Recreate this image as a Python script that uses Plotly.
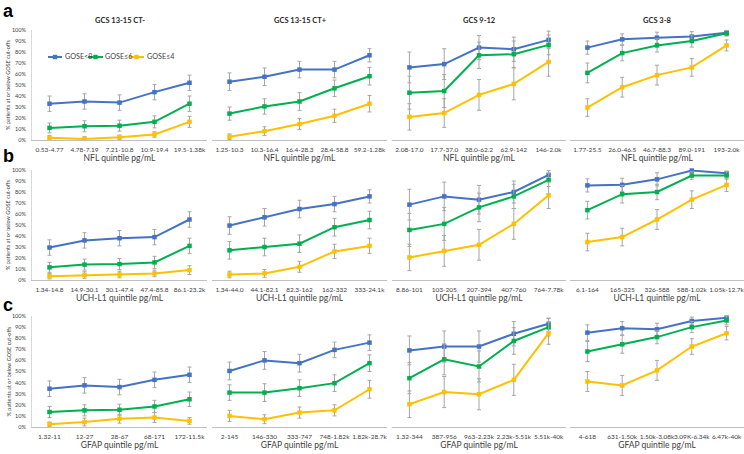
import plotly.graph_objects as go

W, H = 744, 454

series_names = ["GOSE<8", "GOSE≤6", "GOSE≤4"]
series_colors = ["#4472C4", "#00B050", "#FFC000"]

panel_titles = ["GCS 13-15 CT-", "GCS 13-15 CT+", "GCS 9-12", "GCS 3-8"]
row_letters = ["a", "b", "c"]
row_xtitles = ["NFL quintile pg/mL", "UCH-L1 quintile pg/mL", "GFAP quintile pg/mL"]

# ---------------- Row a: NFL ----------------
nfl_p1_labels = ["0.53-4.77", "4.78-7.19", "7.21-10.8", "10.9-19.4", "19.5-1.38k"]
nfl_p1_vals = [[33, 35, 34, 43.5, 52], [11, 12.5, 13, 16.5, 33], [2, 1, 2.5, 5, 16.5]]
nfl_p1_err = [[7, 7, 7, 7, 7], [4.5, 5, 5, 5.5, 7], [2, 2, 2, 2.5, 5]]

nfl_p2_labels = ["1.25-10.3", "10.3-16.4", "16.4-28.3", "28.4-58.8", "59.2-1.28k"]
nfl_p2_vals = [[53, 57.5, 64, 64, 77], [24, 30.5, 35, 47, 58], [3, 8, 14.5, 22, 33]]
nfl_p2_err = [[8, 8, 7.5, 7.5, 6], [6, 7, 8, 7.5, 8], [2.5, 4, 5, 6, 7.5]]

nfl_p3_labels = ["2.08-17.0", "17.7-37.0", "38.0-62.2", "62.9-142", "146-2.0k"]
nfl_p3_vals = [[66, 69, 84, 82.5, 91], [43, 44.5, 77, 78, 86.5], [21, 24.5, 41, 51, 71]]
nfl_p3_err = [[14, 14, 11, 11, 8], [15, 15, 12, 12, 9], [12, 13, 14, 14.5, 13]]

nfl_p4_labels = ["1.77-25.5", "26.0-46.5", "46.7-88.3", "89.0-191", "193-2.0k"]
nfl_p4_vals = [[84, 91.5, 93, 94, 97.5], [61, 79, 86, 90, 97], [29.5, 48, 59, 66, 86]]
nfl_p4_err = [[6, 5, 5, 4.5, 2.5], [9, 7, 6, 5.5, 2.5], [8, 9, 9, 8, 5]]

# ---------------- Row b: UCH-L1 ----------------
uch_p1_labels = ["1.34-14.8", "14.9-30.1", "30.1-47.4", "47.4-85.8", "86.1-23.2k"]
uch_p1_vals = [[29.5, 36, 38, 39, 55], [11.5, 14, 14.5, 16, 31], [3.5, 4.5, 5, 6, 9]]
uch_p1_err = [[7, 7, 7, 7, 7], [4.5, 5, 5, 5.5, 7], [2.5, 3, 3, 3, 4]]

uch_p2_labels = ["1.34-44.0", "44.1-82.1", "82.3-162", "162-332", "333-24.1k"]
uch_p2_vals = [[49.5, 57, 64.5, 69, 76], [27, 30, 33, 48, 54.5], [5, 6, 12, 26, 31]]
uch_p2_err = [[8, 8, 8, 7, 6], [8, 8, 8, 8, 8], [3, 3.5, 5, 6.5, 7]]

uch_p3_labels = ["8.86-101", "103-205", "207-394", "407-760", "764-7.78k"]
uch_p3_vals = [[68.5, 76, 73, 80, 95.5], [45.5, 51, 66, 76, 91], [20.5, 26.5, 32, 51, 77]]
uch_p3_err = [[14, 13, 13, 10, 4], [15, 15, 13, 11, 6], [12, 14, 14, 14, 12]]

uch_p4_labels = ["6.1-164", "165-325", "326-588", "588-1.02k", "1.05k-12.7k"]
uch_p4_vals = [[86, 86.5, 91.5, 99.5, 97], [63.5, 78, 80, 95, 95], [34.5, 39, 55, 73, 86.5]]
uch_p4_err = [[6, 6, 6, 2, 2], [8, 8, 7, 3.5, 3.5], [8, 8, 9, 8, 6]]

# ---------------- Row c: GFAP ----------------
gfap_p1_labels = ["1.32-11", "12-27", "28-67", "68-171", "172-11.5k"]
gfap_p1_vals = [[34.5, 37.5, 36, 42.5, 47], [13.5, 15, 15.5, 18.5, 25], [2.5, 4.5, 7.5, 8.5, 5.5]]
gfap_p1_err = [[7, 7, 7, 7, 7], [5, 5, 5, 5.5, 6.5], [2, 3.5, 4, 4.5, 3]]

gfap_p2_labels = ["2-145", "146-330", "333-747", "748-1.82k", "1.82k-28.7k"]
gfap_p2_vals = [[50.5, 60, 57.5, 69.5, 76], [31, 31, 35, 39.5, 57.5], [10, 7, 13, 15, 34]]
gfap_p2_err = [[8, 8, 8, 7, 7], [7, 8, 7.5, 7.5, 7.5], [5, 4, 5, 5, 8]]

gfap_p3_labels = ["1.32-344", "387-956", "963-2.23k", "2.23k-5.51k", "5.51k-40k"]
gfap_p3_vals = [[69, 72.5, 72.5, 84, 93], [44, 61, 54.5, 77.5, 90], [20.5, 31.5, 29.5, 42.5, 84.5]]
gfap_p3_err = [[13, 14, 14, 11, 5], [14, 14, 14, 12, 8], [12, 14, 14, 14, 10]]

gfap_p4_labels = ["4-618", "631-1.50k", "1.50k-3.08k", "3.09K-6.34k", "6.47k-40k"]
gfap_p4_vals = [[85, 89, 88, 95.5, 98.5], [68, 74.5, 81, 90, 96], [41, 37.5, 51, 72.5, 84.5]]
gfap_p4_err = [[7, 6, 5.5, 3.5, 2], [9, 8, 6, 5, 4], [9, 9, 9, 7, 6]]

panels = [
    [(nfl_p1_labels, nfl_p1_vals, nfl_p1_err), (nfl_p2_labels, nfl_p2_vals, nfl_p2_err),
     (nfl_p3_labels, nfl_p3_vals, nfl_p3_err), (nfl_p4_labels, nfl_p4_vals, nfl_p4_err)],
    [(uch_p1_labels, uch_p1_vals, uch_p1_err), (uch_p2_labels, uch_p2_vals, uch_p2_err),
     (uch_p3_labels, uch_p3_vals, uch_p3_err), (uch_p4_labels, uch_p4_vals, uch_p4_err)],
    [(gfap_p1_labels, gfap_p1_vals, gfap_p1_err), (gfap_p2_labels, gfap_p2_vals, gfap_p2_err),
     (gfap_p3_labels, gfap_p3_vals, gfap_p3_err), (gfap_p4_labels, gfap_p4_vals, gfap_p4_err)],
]

# layout geometry (pixels)
col_px = [(32, 207), (212, 387), (392, 566), (570, 744)]
row_px = [(30, 140), (170, 280), (316, 427)]

FONT = "Lato, 'Open Sans', sans-serif"
TXT = "#404040"

fig = go.Figure()
layout = dict(
    width=W, height=H, margin=dict(l=0, r=0, t=0, b=0),
    paper_bgcolor="white", plot_bgcolor="white", showlegend=False,
    font=dict(family=FONT, color=TXT),
)
annotations = []
shapes = []

idx = 0
for r in range(3):
    for c in range(4):
        idx += 1
        xa = "x" if idx == 1 else f"x{idx}"
        ya = "y" if idx == 1 else f"y{idx}"
        labels, vals, errs = panels[r][c]
        for s in range(3):
            fig.add_trace(go.Scatter(
                x=labels, y=vals[s], xaxis=xa, yaxis=ya, mode="lines+markers",
                name=series_names[s],
                line=dict(color=series_colors[s], width=2),
                marker=dict(symbol="square", size=4.5, color=series_colors[s]),
                error_y=dict(type="data", array=errs[s], visible=True,
                             color="#A6A6A6", thickness=1, width=2),
                cliponaxis=False,
            ))
        x0, x1 = col_px[c]
        y0, y1 = row_px[r]
        xkey = "xaxis" if idx == 1 else f"xaxis{idx}"
        ykey = "yaxis" if idx == 1 else f"yaxis{idx}"
        layout[xkey] = dict(
            domain=[x0 / W, x1 / W], anchor=ya, type="category",
            categoryorder="array", categoryarray=labels, range=[-0.5, 4.5],
            showline=True, linecolor="#BFBFBF", linewidth=1,
            showgrid=False, zeroline=False, ticks="", ticklen=0, tickangle=0,
            tickfont=dict(size=6.5, color=TXT, family=FONT),
            ticklabelstandoff=3, automargin=False,
            title=dict(text=row_xtitles[r], font=dict(size=8.5, color=TXT, family=FONT), standoff=2),
        )
        layout[ykey] = dict(
            domain=[1 - y1 / H, 1 - y0 / H], anchor=xa, range=[0, 100],
            dtick=10, ticksuffix="%", showgrid=False, zeroline=False,
            showline=(c == 0), linecolor="#D9D9D9", linewidth=1,
            showticklabels=(c == 0), ticks="", ticklen=0,
            tickfont=dict(size=5.5, color=TXT, family=FONT),
            ticklabelstandoff=4, automargin=False,
        )
        if r == 0:
            annotations.append(dict(
                text=f"<b>{panel_titles[c]}</b>", x=(x0 + x1) / 2 / W, y=1 - 20 / H,
                xref="paper", yref="paper", showarrow=False,
                xanchor="center", yanchor="middle",
                font=dict(size=7.5, color="#262626", family=FONT),
            ))
        if c == 0:
            annotations.append(dict(
                text="% patients at or below GOSE cut-offs", textangle=-90,
                x=8 / W, y=1 - (y0 + y1) / 2 / H, xref="paper", yref="paper",
                xanchor="center", yanchor="middle",
                showarrow=False, font=dict(size=5.5, color=TXT, family=FONT),
            ))
    # row letter
    annotations.append(dict(
        text=f"<b>{row_letters[r]}</b>", x=8 / W, y=1 - [11, 156, 305][r] / H,
        xref="paper", yref="paper", showarrow=False,
        xanchor="center", yanchor="middle",
        font=dict(size=18, color="black", family="Arial, 'Liberation Sans', sans-serif"),
    ))

# custom compact legend inside top-left panel
leg_y = 1 - 57 / H
leg_items = [(48, 62), (88, 103), (129, 144)]
for s, (lx0, lx1) in enumerate(leg_items):
    shapes.append(dict(type="line", xref="paper", yref="paper",
                       x0=lx0 / W, x1=lx1 / W, y0=leg_y, y1=leg_y,
                       line=dict(color=series_colors[s], width=2)))
    mx = (lx0 + lx1) / 2
    shapes.append(dict(type="rect", xref="paper", yref="paper",
                       x0=(mx - 2.2) / W, x1=(mx + 2.2) / W,
                       y0=leg_y - 2.2 / H, y1=leg_y + 2.2 / H,
                       line=dict(width=0), fillcolor=series_colors[s]))
    annotations.append(dict(
        text=series_names[s], x=(lx1 + 0.5) / W, y=leg_y, xref="paper", yref="paper",
        xanchor="left", yanchor="middle", showarrow=False,
        font=dict(size=7.2, color=TXT, family=FONT),
    ))

layout["annotations"] = annotations
layout["shapes"] = shapes
fig.update_layout(**layout)
fig.write_html("out.html", config={"displayModeBar": False},
               post_script="document.body.style.margin='0';document.body.style.overflow='hidden';")
